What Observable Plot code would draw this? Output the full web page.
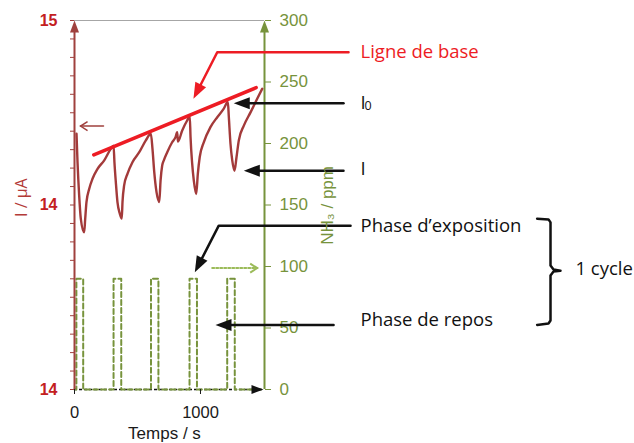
<!DOCTYPE html>
<html><head><meta charset="utf-8">
<script src="https://cdn.jsdelivr.net/npm/d3@7"></script>
<script src="https://cdn.jsdelivr.net/npm/@observablehq/plot@0.6"></script>
<style>body{margin:0;background:#fff}#chart svg{display:block}</style>
</head><body><div id="chart"></div>
<script>
// ---- scales / ticks ----
const timeDomain = [0, 1508];
const currentDomain = [14, 15];
const ppmDomain = [0, 300];
const timeTicks = [0, 1000];
const timeTickLabels = ["0", "1000"];
const currentTickValues = [14, 14.5, 15];
const currentTickLabels = ["14", "14", "15"];
const ppmTickValues = [0, 50, 100, 150, 200, 250, 300];

// ---- current I (µA) vs time (s) ----
const curveT = [16,24,37,50,77,85,95,117,143,183,236,288,310,317,328,341,360,375,381,394,421,460,514,566,606,619,633,651,673,683,696,709,736,775,802,815,821,855,894,915,921,934,947,966,979,994,1026,1079,1133,1185,1217,1225,1238,1252,1270,1286,1304,1344,1397,1450,1490];
const curveI = [14.693,14.616,14.526,14.463,14.426,14.463,14.508,14.544,14.571,14.598,14.621,14.652,14.661,14.616,14.562,14.508,14.476,14.463,14.508,14.553,14.585,14.616,14.643,14.675,14.693,14.652,14.589,14.535,14.508,14.566,14.607,14.621,14.643,14.670,14.684,14.697,14.672,14.702,14.729,14.740,14.684,14.612,14.566,14.530,14.585,14.630,14.670,14.711,14.738,14.761,14.779,14.738,14.666,14.621,14.593,14.630,14.675,14.715,14.751,14.788,14.815];

// ---- NH3 (ppm) vs time (s) ----
const nh3T = [0,15,15,69,69,310,310,371,371,607,607,666,666,913,913,972,972,1212,1212,1272,1272,1500];
const nh3V = [0,0,90,90,0,0,90,90,0,0,90,90,0,0,90,90,0,0,90,90,0,0];

// ---- baseline ("ligne de base") ----
const baselineT = [153, 1442];
const baselineI = [14.636, 14.818];

// ---- annotations (data coordinates) ----
const leaderLines = [
  {g:"base", t:2175, v:14.914}, {g:"base", t:1133, v:14.914}, {g:"base", t:973, v:14.807},
  {g:"i0", t:2135, v:14.776}, {g:"i0", t:1327, v:14.776},
  {g:"i", t:2135, v:14.593}, {g:"i", t:1407, v:14.593},
  {g:"exp", t:2191, v:14.444}, {g:"exp", t:1145, v:14.444}, {g:"exp", t:984, v:14.337},
  {g:"rep", t:2056, v:14.175}, {g:"rep", t:1182, v:14.175}
];
const leaderColor = {base:"#ed1c24", i0:"#111", i:"#111", exp:"#111", rep:"#111"};
const bigHeads = [
  {t:944, v:14.788, angle:207, color:"#ed1c24"},
  {t:1264, v:14.776, angle:270, color:"#111"},
  {t:1344, v:14.593, angle:270, color:"#111"},
  {t:955, v:14.318, angle:207, color:"#111"},
  {t:1119, v:14.175, angle:270, color:"#111"}
];
const axisHeads = [
  {t:0, v:15, angle:0, color:"#a0413e"},
  {t:1508, v:15, angle:0, color:"#77933c"},
  {t:1500, v:14, angle:90, color:"#111"}
];
const leftHint = [{t:230, v:14.714}, {t:48, v:14.714}];
const rightHint = [{t:1093, v:14.329}, {t:1450, v:14.329}];
const braceT = [3672,3762,3778,3778,3802,3857,3802,3778,3778,3762,3672];
const braceV = [14.463,14.461,14.453,14.336,14.325,14.322,14.320,14.309,14.187,14.179,14.175];
const labels = [
  {text:"Ligne de base", t:2270, v:14.915, color:"#ed1c24"},
  {text:"I", t:2270, v:14.776, color:"#111"},
  {text:"I", t:2270, v:14.596, color:"#111"},
  {text:"Phase d’exposition", t:2270, v:14.443, color:"#111"},
  {text:"Phase de repos", t:2270, v:14.187, color:"#111"},
  {text:"1 cycle", t:3976, v:14.325, color:"#111"}
];
const subLabels = [{text:"0", t:2302, v:14.768}];

// ---- build ----
const toI = d3.scaleLinear(ppmDomain, currentDomain);
const currentData = curveT.map((t, i) => ({t, v: curveI[i]}));
const nh3Data = nh3T.map((t, i) => ({t, v: toI(nh3V[i])}));
const baselineData = baselineT.map((t, i) => ({t, v: baselineI[i]}));
const braceData = braceT.map((t, i) => ({t, v: braceV[i]}));
const tickLabelMap = new Map(currentTickValues.map((d, i) => [d, currentTickLabels[i]]));
const timeLabelMap = new Map(timeTicks.map((d, i) => [d, timeTickLabels[i]]));
const ppmLabelMap = new Map(ppmTickValues.map(d => [toI(d), String(d)]));

const head = (len, wid) => ({draw(ctx){ctx.moveTo(0,0);ctx.lineTo(-wid/2,len);ctx.lineTo(wid/2,len);ctx.closePath();}});
const chevron = (len, wid) => ({draw(ctx){ctx.moveTo(-wid/2,len);ctx.lineTo(0,0);ctx.lineTo(wid/2,len);}});

const ANN = "Open Sans";
const chart = Plot.plot({
  width: 634, height: 443,
  marginLeft: 74, marginRight: 370, marginTop: 20, marginBottom: 54,
  style: {fontFamily: "Liberation Sans, Arial, sans-serif", background: "#fff", overflow: "visible"},
  x: {domain: timeDomain, label: null},
  y: {domain: currentDomain, label: null},
  marks: [
    Plot.ruleY([15], {x1: 0, x2: 1508, stroke: "#a6a6a6", strokeWidth: 1}),
    Plot.ruleY([14], {x1: 0, x2: 1496, stroke: "#111", strokeWidth: 1.5, strokeDasharray: "3,2"}),
    Plot.line(nh3Data, {x: "t", y: "v", stroke: "#77933c", strokeWidth: 2, strokeDasharray: "5,3"}),
    Plot.ruleX([0], {y1: 14, y2: 14.97, stroke: "#a0413e", strokeWidth: 2}),
    Plot.ruleX([1508], {y1: 14, y2: 14.97, stroke: "#77933c", strokeWidth: 2}),
    Plot.dot(axisHeads, {x: "t", y: "v", rotate: "angle", symbol: head(12, 9), fill: "color", stroke: "none"}),
    Plot.axisX(timeTicks, {anchor: "bottom", tickSize: 5, tickPadding: 12, tickFormat: d => timeLabelMap.get(d), fontSize: 16.5, color: "#1a1a1a", label: null}),
    Plot.axisY({anchor: "left", ticks: 20, tickSize: 4, tickFormat: () => "", color: "#a0413e", label: null}),
    Plot.axisY(currentTickValues, {anchor: "left", tickSize: 0, tickPadding: 17, tickFormat: d => tickLabelMap.get(d), fontSize: 16, fontWeight: "bold", color: "#c3201f", label: null}),
    Plot.axisY(ppmTickValues.map(d => toI(d)), {anchor: "right", tickSize: 6, tickPadding: 9, tickFormat: d => ppmLabelMap.get(d), fontSize: 17, color: "#77933c", label: null}),
    Plot.line(currentData, {x: "t", y: "v", stroke: "#a33a3a", strokeWidth: 2.4, curve: "monotone-x"}),
    Plot.line(baselineData, {x: "t", y: "v", stroke: "#ed1c24", strokeWidth: 3.5}),
    Plot.line(leaderLines, {x: "t", y: "v", z: "g", stroke: d => leaderColor[d.g], strokeWidth: 2.5}),
    Plot.dot(bigHeads, {x: "t", y: "v", rotate: "angle", symbol: head(16, 12), fill: "color", stroke: "none"}),
    Plot.line(leftHint, {x: "t", y: "v", stroke: "#a0413e", strokeWidth: 1.5}),
    Plot.dot([leftHint[1]], {x: "t", y: "v", rotate: 270, symbol: chevron(7, 9), fill: "none", stroke: "#a0413e", strokeWidth: 1.5}),
    Plot.line(rightHint, {x: "t", y: "v", stroke: "#9bbb59", strokeWidth: 2, strokeDasharray: "2,2"}),
    Plot.dot([rightHint[1]], {x: "t", y: "v", rotate: 90, symbol: chevron(7, 9), fill: "none", stroke: "#9bbb59", strokeWidth: 2}),
    Plot.line(braceData, {x: "t", y: "v", stroke: "#111", strokeWidth: 2.5}),
    Plot.text(labels, {x: "t", y: "v", text: "text", fill: "color", fontFamily: ANN, fontSize: 18.5, textAnchor: "start", lineAnchor: "middle"}),
    Plot.text(subLabels, {x: "t", y: "v", text: "text", fill: "#111", fontFamily: ANN, fontSize: 12.5, textAnchor: "start", lineAnchor: "middle"}),
    Plot.text([{t: -417, v: 14.52}], {x: "t", y: "v", text: () => "I / µA", rotate: -90, fill: "#b33b38", fontFamily: ANN, fontSize: 16, textAnchor: "middle", lineAnchor: "middle"}),
    Plot.text([{t: 2012, v: 14.499}], {x: "t", y: "v", text: () => "NH₃ / ppm", rotate: -90, fill: "#77933c", fontSize: 17, textAnchor: "middle", lineAnchor: "middle"}),
    Plot.text([{t: 714, v: 13.881}], {x: "t", y: "v", text: () => "Temps / s", fill: "#1a1a1a", fontSize: 17, textAnchor: "middle", lineAnchor: "middle"})
  ]
});
document.getElementById("chart").appendChild(chart);
</script>
</body></html>
